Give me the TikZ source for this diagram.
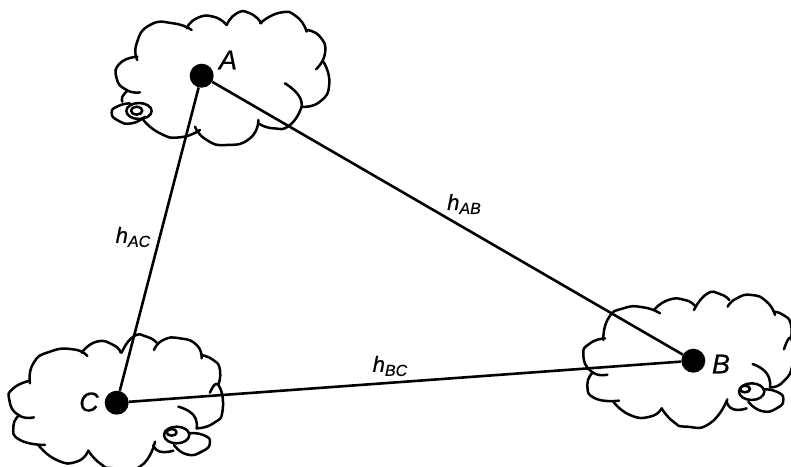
\documentclass[tikz,border=0pt]{standalone}
\usepackage{fontspec}
\setmainfont{Liberation Sans}[ItalicFeatures={FakeBold=0.6}]
\tikzset{
  rim/.style={line width=2.5pt, line cap=round, line join=round},
  zoomed/.style={x=0.3333pt, y=-0.3333pt},
  site/.style={circle, fill=black, inner sep=0pt, minimum size=24pt},
  sitename/.style={font=\itshape\fontsize{27}{27}\selectfont, inner sep=0pt},
  hoplabel/.style={font=\fontsize{22}{22}\selectfont, inner sep=0pt},
  hop/.style={line width=2.6pt}
}
\newcommand{\hoplen}[1]{\textit{h}\raisebox{-4pt}{\fontsize{16}{16}\selectfont\textit{#1}}}
\newcommand{\bump}[1]{\draw plot[smooth, tension=1] coordinates {#1};}
\begin{document}
\begin{tikzpicture}[x=1pt, y=-1pt]
  \useasboundingbox (0,0) rectangle (791,466);
  % cloud behind A
  \begin{scope}[shift={(90,0)}, zoomed, rim]
    \bump{(305,90) (250,70) (180,75) (140,130) (142,180)}
    \bump{(142,170) (90,190) (80,235) (110,270) (150,277)}
    \bump{(110,275) (97,290) (97,305)}
    \bump{(160,360) (210,400) (270,412) (330,390)}
    \bump{(315,380) (350,420) (410,435) (480,415) (505,360)}
    \bump{(505,370) (550,385) (600,375) (635,320)}
    \bump{(585,250) (625,285) (635,320)}
    \bump{(635,320) (690,305) (718,250) (700,185)}
    \bump{(678,208) (705,160) (690,110) (650,90)}
    \bump{(650,95) (620,50) (570,38) (510,70)}
    \bump{(515,70) (480,40) (440,40) (410,75)}
    \bump{(410,75) (370,50) (320,55) (290,85)}
    \draw (140,332) ellipse (17 and 12);
    \draw (147,333) ellipse (38 and 24);
    \bump{(120,310) (85,318) (65,338) (85,362) (125,370) (165,350)}
  \end{scope}
  % cloud behind C
  \begin{scope}[shift={(0,320)}, zoomed, rim]
    \bump{(262,108) (220,88) (150,95) (100,130) (90,190)}
    \bump{(90,182) (40,205) (28,240) (55,285) (102,292)}
    \bump{(58,285) (40,320) (60,360) (135,375)}
    \bump{(115,375) (170,420) (230,425) (265,392)}
    \bump{(265,392) (300,430) (340,445) (420,440) (465,365)}
    \bump{(460,375) (480,395) (520,392)}
    \bump{(590,325) (640,310) (668,270) (655,195) (630,218)}
    \bump{(535,260) (580,285) (590,325)}
    \bump{(655,195) (660,150) (640,120) (603,105)}
    \bump{(605,115) (590,75) (540,55) (490,60) (462,90)}
    \bump{(470,68) (440,50) (400,50) (365,98)}
    \bump{(362,98) (340,75) (290,65) (245,98)}
    \draw (515,337) ellipse (15 and 10);
    \draw (530,345) ellipse (38 and 25);
    \bump{(570,340) (610,345) (630,368) (605,395) (560,403) (522,375)}
  \end{scope}
  % cloud behind B
  \begin{scope}[shift={(570,280)}, zoomed, rim]
    \bump{(270,100) (220,82) (160,85) (115,115) (100,180)}
    \bump{(105,175) (60,190) (40,225) (65,275) (112,284)}
    \bump{(68,278) (52,315) (75,355) (147,362)}
    \bump{(130,365) (180,405) (240,410) (275,385)}
    \bump{(275,385) (310,425) (350,440) (420,430) (472,358)}
    \bump{(470,365) (490,388) (530,385)}
    \bump{(600,322) (640,305) (668,250) (663,175) (642,208)}
    \bump{(548,252) (590,280) (600,322)}
    \bump{(663,175) (662,130) (640,105) (612,95)}
    \bump{(615,105) (590,65) (545,45) (500,55) (473,80)}
    \bump{(478,60) (450,42) (410,42) (372,90)}
    \bump{(375,78) (345,60) (295,60) (252,90)}
    \draw (525,327) ellipse (15 and 10);
    \draw (545,335) ellipse (38 and 25);
    \bump{(580,328) (620,335) (640,358) (620,385) (575,393) (535,365)}
  \end{scope}
  % sites
  \node[site] (siteA) at (201.7,75.7) {};
  \node[site] (siteB) at (693.3,360.7) {};
  \node[site] (siteC) at (116.7,402.7) {};
  \node[sitename] (nameA) at (228,60) {A};
  \node[sitename] (nameB) at (721,364) {B};
  \node[sitename] (nameC) at (89,402) {C};
  % hops
  \draw[hop] (siteA) -- (siteB);
  \draw[hop] (siteA) -- (siteC);
  \draw[hop] (siteC) -- (siteB);
  \node[hoplabel] (hopAB) at (464,204) {\hoplen{AB}};
  \node[hoplabel] (hopAC) at (133,237) {\hoplen{AC}};
  \node[hoplabel] (hopBC) at (390,366) {\hoplen{BC}};
\end{tikzpicture}
\end{document}
